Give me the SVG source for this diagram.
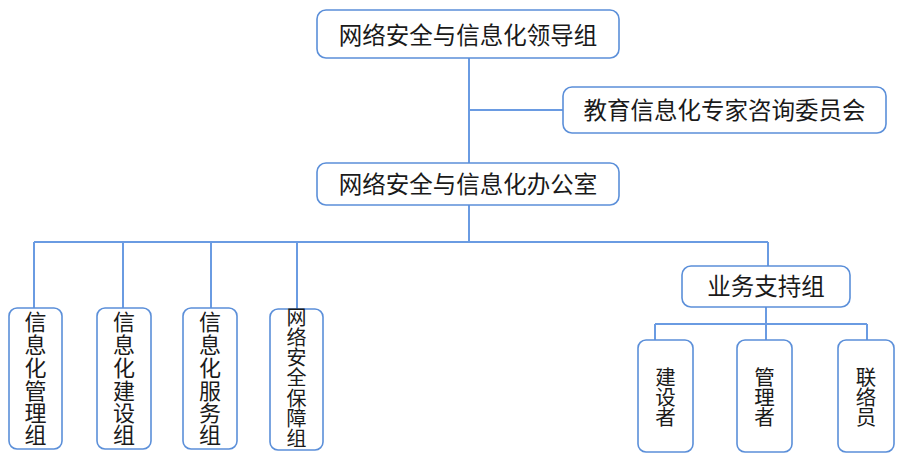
<svg xmlns="http://www.w3.org/2000/svg" width="905" height="455" viewBox="0 0 905 455">
<style>
.box{fill:#fff;stroke:#5b8fd9;stroke-width:1.6}
.ln{fill:none;stroke:#6a9be2;stroke-width:2}
text{font-family:"Noto Sans CJK SC","Noto Sans",sans-serif;fill:#1a1a1a;text-anchor:middle}
.h{font-size:23.5px}
.v{font-size:22px}
.v2{font-size:20px}
.s{font-size:20.5px}
</style>
<rect width="905" height="455" fill="#fff"/>
<g id="connectors">
<path class="ln" d="M469 58V163M469 110H563M469 205V242M34 242H768M34 242V308M123 242V308M211 242V308M297 242V309M768 242V266M766 307V324M655 324H867M655 324V340M766 324V340M867 324V340"/>
</g>
<g id="n-lead">
<rect class="box" x="317" y="10" width="302" height="48" rx="9"/>
<text class="h" x="468" y="44">网络安全与信息化领导组</text>
</g>
<g id="n-expert">
<rect class="box" x="563" y="87" width="323" height="46" rx="9"/>
<text class="h" x="724.5" y="119">教育信息化专家咨询委员会</text>
</g>
<g id="n-office">
<rect class="box" x="317" y="163" width="302" height="42" rx="9"/>
<text class="h" x="468" y="193">网络安全与信息化办公室</text>
</g>
<g id="n-g1">
<rect class="box" x="9" y="308" width="53" height="141" rx="8"/>
<text class="v" x="35.5"><tspan x="35.5" y="330">信</tspan><tspan x="35.5" y="353">息</tspan><tspan x="35.5" y="376">化</tspan><tspan x="35.5" y="399">管</tspan><tspan x="35.5" y="421">理</tspan><tspan x="35.5" y="443">组</tspan></text>
</g>
<g id="n-g2">
<rect class="box" x="97" y="308" width="54" height="141" rx="8"/>
<text class="v" x="124"><tspan x="124" y="330">信</tspan><tspan x="124" y="353">息</tspan><tspan x="124" y="376">化</tspan><tspan x="124" y="399">建</tspan><tspan x="124" y="421">设</tspan><tspan x="124" y="443">组</tspan></text>
</g>
<g id="n-g3">
<rect class="box" x="183" y="308" width="54" height="141" rx="8"/>
<text class="v" x="210"><tspan x="210" y="330">信</tspan><tspan x="210" y="353">息</tspan><tspan x="210" y="376">化</tspan><tspan x="210" y="399">服</tspan><tspan x="210" y="421">务</tspan><tspan x="210" y="443">组</tspan></text>
</g>
<g id="n-g4">
<rect class="box" x="270" y="309" width="53" height="141" rx="8"/>
<text class="v2" x="296.5"><tspan x="296.5" y="325">网</tspan><tspan x="296.5" y="345">络</tspan><tspan x="296.5" y="365">安</tspan><tspan x="296.5" y="385">全</tspan><tspan x="296.5" y="406">保</tspan><tspan x="296.5" y="426">障</tspan><tspan x="296.5" y="446">组</tspan></text>
</g>
<g id="n-support">
<rect class="box" x="682" y="266" width="168" height="41" rx="9"/>
<text class="h" x="766" y="295">业务支持组</text>
</g>
<g id="n-builder">
<rect class="box" x="638" y="340" width="55" height="112" rx="8"/>
<text class="s" x="665.5"><tspan x="665.5" y="384.5">建</tspan><tspan x="665.5" y="404.5">设</tspan><tspan x="665.5" y="424.5">者</tspan></text>
</g>
<g id="n-manager">
<rect class="box" x="737" y="340" width="55" height="112" rx="8"/>
<text class="s" x="764.5"><tspan x="764.5" y="384.5">管</tspan><tspan x="764.5" y="404.5">理</tspan><tspan x="764.5" y="424.5">者</tspan></text>
</g>
<g id="n-liaison">
<rect class="box" x="838" y="340" width="56" height="112" rx="8"/>
<text class="s" x="866"><tspan x="866" y="384.5">联</tspan><tspan x="866" y="404.5">络</tspan><tspan x="866" y="424.5">员</tspan></text>
</g>
</svg>
